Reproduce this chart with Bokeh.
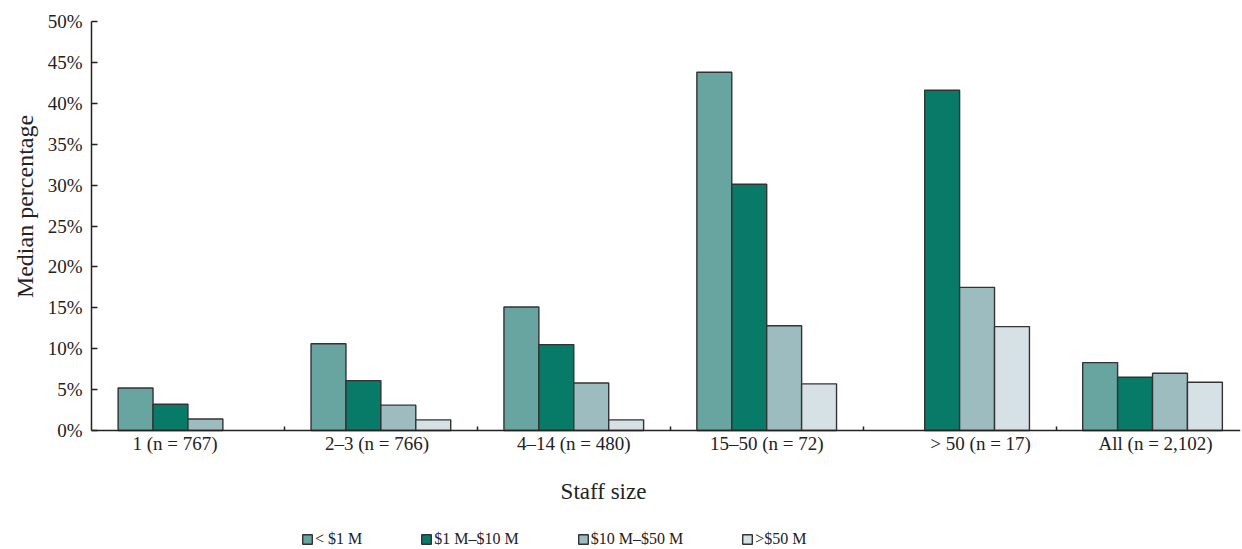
from bokeh.plotting import figure
from bokeh.models import (FixedTicker, CustomJSTickFormatter, PrintfTickFormatter,
                          Legend, LegendItem, Range1d, ColumnDataSource, Label)
from bokeh.embed import file_html
from bokeh.resources import INLINE
import math

NaN = float("nan")

categories = ["1 (n = 767)", "2–3 (n = 766)", "4–14 (n = 480)",
              "15–50 (n = 72)", "> 50 (n = 17)", "All (n = 2,102)"]
series_names = ["< $1 M", "$1 M–$10 M", "$10 M–$50 M", ">$50 M"]
under_1m = [5.2, 10.6, 15.1, 43.8, NaN, 8.3]
m1_to_10 = [3.2, 6.1, 10.5, 30.1, 41.6, 6.5]
m10_to_50 = [1.4, 3.1, 5.8, 12.8, 17.5, 7.0]
over_50m = [NaN, 1.3, 1.3, 5.7, 12.7, 5.9]
series_values = [under_1m, m1_to_10, m10_to_50, over_50m]
colors = ["#69a5a0", "#077b68", "#9cbcbf", "#d6e1e5"]
y_ticks = list(range(0, 55, 5))

FONT = "Liberation Serif"
TXT = "#222222"
X_END = 5.956

# The frame covers the whole canvas; both axes are pinned at zero (with bounds) so that
# the tick labels, titles and legend all sit inside the frame.
p = figure(width=1242, height=549, output_backend="svg", toolbar_location=None,
           x_range=Range1d(-0.4717, X_END), y_range=Range1d(-14.55, 52.57),
           min_border_left=0, min_border_right=2, min_border_top=0,
           min_border_bottom=0)
p.outline_line_color = None
p.xgrid.visible = False
p.ygrid.visible = False

bar_w = 0.181
offsets = [-1.5 * bar_w, -0.5 * bar_w, 0.5 * bar_w, 1.5 * bar_w]
items = []
for name, vals, col, off in zip(series_names, series_values, colors, offsets):
    xs = [i + 0.5 + off for i in range(len(categories))]
    src = ColumnDataSource(dict(x=xs, top=vals))
    r = p.vbar(x="x", top="top", bottom=0, width=bar_w, source=src,
               fill_color=col, line_color="#333333", line_width=1.4)
    items.append(LegendItem(label=name, renderers=[r]))

# x axis at y = 0; category labels nudged as in the original typesetting
label_shift = [-0.067, -0.02, 0.0, 0.0, 0.109, 0.016]
xa = p.xaxis[0]
xa.fixed_location = 0
xa.bounds = (0, X_END)
xa.ticker = FixedTicker(ticks=[i + 0.5 + s for i, s in enumerate(label_shift)],
                        minor_ticks=[i for i in range(1, len(categories))])
xa.formatter = CustomJSTickFormatter(args=dict(labels=categories),
                                     code="var i = Math.floor(tick); return (i >= 0 && i < labels.length) ? labels[i] : '';")
xa.major_tick_line_color = None
xa.major_tick_in = 0
xa.major_tick_out = 0
xa.minor_tick_in = 4
xa.minor_tick_out = 0
xa.minor_tick_line_color = "#222222"
xa.minor_tick_line_width = 1.5
xa.axis_line_color = "#222222"
xa.axis_line_width = 1.5
xa.major_label_text_font = FONT
xa.major_label_text_font_size = "19px"
xa.major_label_text_color = TXT
xa.major_label_standoff = 3

p.add_layout(Label(x=603, y=58, x_units="screen", y_units="screen", text="Staff size",
                   text_font=FONT, text_font_size="23px", text_color=TXT,
                   text_align="center", text_baseline="middle"))

# y axis at x = 0
ya = p.yaxis[0]
ya.fixed_location = 0
ya.bounds = (0, 50)
ya.ticker = FixedTicker(ticks=y_ticks)
ya.formatter = PrintfTickFormatter(format="%d%%")
ya.major_tick_in = 6
ya.major_tick_out = 0
ya.minor_tick_line_color = None
ya.major_tick_line_color = "#222222"
ya.major_tick_line_width = 1.5
ya.axis_line_color = "#222222"
ya.axis_line_width = 1.5
ya.major_label_text_font = FONT
ya.major_label_text_font_size = "19px"
ya.major_label_text_color = TXT
ya.major_label_standoff = 9

p.add_layout(Label(x=24, y=343, x_units="screen", y_units="screen",
                   text="Median percentage", angle=math.pi / 2,
                   text_font=FONT, text_font_size="24px", text_color=TXT,
                   text_align="center", text_baseline="middle"))

legend = Legend(items=items, orientation="horizontal", location=(301, 1),
                padding=0, margin=0, spacing=58, glyph_width=12, glyph_height=12,
                label_standoff=2, label_height=12,
                label_text_font=FONT, label_text_font_size="16px",
                label_text_color=TXT, border_line_color=None,
                background_fill_alpha=0)
p.add_layout(legend, "center")

open("out.html", "w").write(file_html(p, INLINE))
